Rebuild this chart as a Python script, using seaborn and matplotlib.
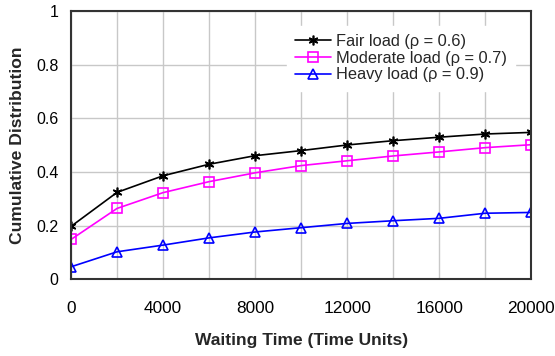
import matplotlib
matplotlib.use("Agg")
import matplotlib.pyplot as plt
import seaborn as sns
import pandas as pd
from matplotlib.ticker import MultipleLocator

waiting_time = [0, 2000, 4000, 6000, 8000, 10000, 12000, 14000, 16000, 18000, 20000]
fair_load = [0.197, 0.324, 0.386, 0.429, 0.461, 0.480, 0.501, 0.517, 0.530, 0.542, 0.548]
moderate_load = [0.148, 0.264, 0.323, 0.364, 0.397, 0.424, 0.442, 0.460, 0.475, 0.491, 0.502]
heavy_load = [0.046, 0.102, 0.127, 0.154, 0.176, 0.192, 0.208, 0.218, 0.227, 0.246, 0.249]
series_names = ["Fair load (ρ = 0.6)", "Moderate load (ρ = 0.7)", "Heavy load (ρ = 0.9)"]
x_ticks = [0, 4000, 8000, 12000, 16000, 20000]
y_ticks = [0, 0.2, 0.4, 0.6, 0.8, 1.0]
y_tick_labels = ["0", "0.2", "0.4", "0.6", "0.8", "1"]

sns.set_theme(style="white")
plt.rcParams['font.family'] = ['Liberation Sans', 'DejaVu Sans']

fig = plt.figure(figsize=(5.55, 3.56), dpi=100)
ax = fig.add_axes([0.128, 0.216, 0.829, 0.752])

colors = ["black", "#ff00ff", "#0000ff"]
markers = [(6, 2, 0), "s", "^"]
for vals, name, c, m in zip([fair_load, moderate_load, heavy_load], series_names, colors, markers):
    df = pd.DataFrame({"t": waiting_time, "v": vals})
    sns.lineplot(data=df, x="t", y="v", ax=ax, color=c, marker=m, linewidth=1.2,
                 markersize=7, markerfacecolor="none", markeredgecolor=c,
                 markeredgewidth=1.2, label=name)

ax.set_xlim(0, 20000)
ax.set_ylim(0, 1)
ax.set_xticks(x_ticks)
ax.set_xticklabels([str(v) for v in x_ticks], fontsize=12.4)
ax.xaxis.set_minor_locator(MultipleLocator(2000))
ax.set_yticks(y_ticks)
ax.set_yticklabels(y_tick_labels, fontsize=11.5)
ax.grid(True, which="both", color="#c8c8c8", linewidth=1.0)
ax.tick_params(axis="x", which="both", length=0, pad=16, colors="black")
ax.tick_params(axis="y", which="both", length=0, pad=9, colors="black")
ax.set_axisbelow(True)
for sp in ax.spines.values():
    sp.set_color("#333333")
    sp.set_linewidth(1.5)

ax.set_xlabel("Waiting Time (Time Units)", fontsize=12.5, fontweight="bold")
ax.set_ylabel("Cumulative Distribution", fontsize=12.6, fontweight="bold")
ax.xaxis.set_label_coords(0.5, -0.228, transform=ax.transAxes)
ax.yaxis.set_label_coords(-0.117, 0.5, transform=ax.transAxes)
ax.xaxis.label.set_verticalalignment("center")
ax.yaxis.label.set_verticalalignment("center")

handles, labels = ax.get_legend_handles_labels()
leg = ax.legend(handles, labels, loc="upper left", bbox_to_anchor=(0.470, 0.946),
                fontsize=11.8, frameon=True, fancybox=False, framealpha=1,
                edgecolor="white", handlelength=2.15, handletextpad=0.3,
                labelspacing=0.1, borderpad=0.5, borderaxespad=0)

fig.savefig("out.png", dpi=100)
